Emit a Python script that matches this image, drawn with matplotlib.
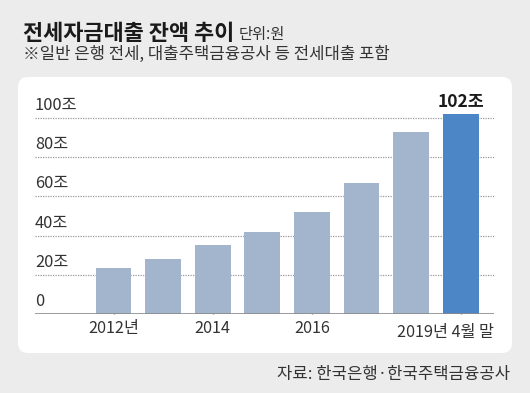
import matplotlib
matplotlib.use("Agg")
import matplotlib.pyplot as plt
from matplotlib.patches import FancyBboxPatch
from matplotlib.transforms import IdentityTransform, blended_transform_factory
import numpy as np

plt.rcParams['font.family'] = ['Noto Sans CJK KR', 'DejaVu Sans']

# Data
categories = ['2012', '2013', '2014', '2015', '2016', '2017', '2018', '2019.4']
values = [23.3, 27.9, 35.2, 41.7, 52.2, 66.8, 92.7, 102.2]
tick_idx = [0, 2, 4]
tick_labels = ['2012년', '2014', '2016']
last_label = '2019년 4월 말'
ytick_vals = [0, 20, 40, 60, 80, 100]
ytick_labels = ['0', '20조', '40조', '60조', '80조', '100조']
highlight_label = '102조'

W, H = 530, 393
fig = plt.figure(figsize=(W / 100, H / 100), dpi=100)
fig.patch.set_facecolor('#ececec')

# white rounded panel (pixel coordinates)
px0, px1, ptop, pbot = 18, 512, 77, 353
panel = FancyBboxPatch((px0, H - pbot), px1 - px0, pbot - ptop,
                       boxstyle="round,pad=0,rounding_size=10",
                       transform=IdentityTransform(), facecolor='white',
                       edgecolor='none', zorder=-10)
fig.patches.append(panel)

def fx(x):
    return x / W

def fy(y):
    return (H - y) / H

# Titles
fig.text(fx(23), fy(33), '전세자금대출 잔액 추이', fontsize=15.8, fontweight='bold',
         color='#1a1a1a', ha='left', va='center')
fig.text(fx(239), fy(35), '단위:원', fontsize=11, color='#333333', ha='left', va='center')
fig.text(fx(23), fy(54), '※일반 은행 전세, 대출주택금융공사 등 전세대출 포함', fontsize=12,
         color='#333333', ha='left', va='center')
fig.text(fx(510), fy(374), '자료: 한국은행·한국주택금융공사', fontsize=12,
         color='#333333', ha='right', va='center')

# Axes
ax_left, ax_right = 35, 494
base_y = 314
unit = 1.96  # px per value unit
ymax = 108
ax = fig.add_axes([fx(ax_left), fy(base_y), (ax_right - ax_left) / W, ymax * unit / H])
ax.set_facecolor('none')
ax.set_zorder(1)

x = np.arange(len(values))
spacing = 49.6
c0 = 113.5
xl = (ax_left - c0) / spacing
xr = (ax_right - c0) / spacing
ax.set_xlim(xl, xr)
ax.set_ylim(0, ymax)

colors = ['#a3b5cc'] * (len(values) - 1) + ['#4c86c6']
ax.bar(x, values, width=0.725, color=colors, zorder=2)

# grid lines
for v in ytick_vals[1:]:
    ax.axhline(v, color='#9a9a9a', linestyle=(0, (1, 1.0)), linewidth=0.9, zorder=1)

trans = blended_transform_factory(ax.transAxes, ax.transData)
for v, lab in zip(ytick_vals, ytick_labels):
    ax.text(0.0, v + 2.0, lab, transform=trans, ha='left', va='bottom',
            fontsize=11.8, color='#333333')

# baseline
ax.axhline(0, color='#8a8a8a', linewidth=1.2, zorder=3)

for s in ax.spines.values():
    s.set_visible(False)
ax.set_yticks([])
ax.set_xticks(tick_idx + [len(values) - 1])
ax.set_xticklabels(tick_labels + [''])
ax.tick_params(axis='x', direction='in', length=6, width=1, color='#777777',
               labelsize=11.7, labelcolor='#333333', pad=4)
ax.text(1.0, -0.048, last_label, transform=ax.transAxes, ha='right', va='top',
        fontsize=11.7, color='#333333')

ax.text(x[-1], values[-1] + 1.5, highlight_label, ha='center', va='bottom',
        fontsize=12.5, fontweight='bold', color='#1a1a1a')

fig.savefig('out.png', dpi=100, facecolor=fig.get_facecolor())
